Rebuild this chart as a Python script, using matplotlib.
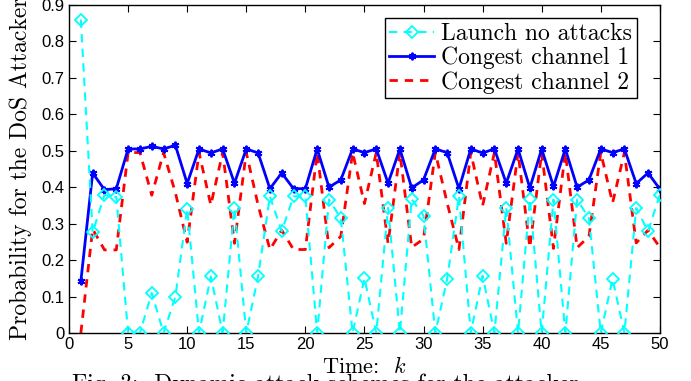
import numpy as np
import matplotlib
matplotlib.use('Agg')
import matplotlib.pyplot as plt

plt.rcParams['mathtext.fontset'] = 'cm'

# time steps
k = np.arange(1, 51)

# probabilities
no_attack = [0.86, 0.276, 0.379, 0.373, 0, 0, 0.11, 0, 0.10, 0.341,
             0, 0.155, 0, 0.343, 0, 0.155, 0.375, 0.279, 0.375, 0.375,
             0, 0.366, 0.315, 0, 0.150, 0, 0.343, 0, 0.367, 0.322,
             0, 0.148, 0.375, 0, 0.157, 0, 0.343, 0, 0.367, 0,
             0.366, 0, 0.366, 0.315, 0, 0.148, 0, 0.343, 0.279, 0.379]
channel1 = [0.142, 0.439, 0.393, 0.396, 0.505, 0.505, 0.512, 0.505, 0.515, 0.41,
            0.505, 0.494, 0.505, 0.411, 0.505, 0.494, 0.396, 0.439, 0.396, 0.396,
            0.505, 0.40, 0.42, 0.505, 0.495, 0.505, 0.411, 0.505, 0.398, 0.42,
            0.505, 0.495, 0.396, 0.505, 0.494, 0.505, 0.411, 0.505, 0.398, 0.505,
            0.402, 0.505, 0.40, 0.42, 0.505, 0.495, 0.505, 0.41, 0.439, 0.395]
channel2 = [0, 0.285, 0.228, 0.228, 0.495, 0.495, 0.378, 0.495, 0.385, 0.249,
            0.495, 0.351, 0.495, 0.246, 0.495, 0.351, 0.229, 0.282, 0.229, 0.229,
            0.495, 0.234, 0.265, 0.495, 0.355, 0.495, 0.246, 0.495, 0.235, 0.258,
            0.495, 0.357, 0.229, 0.495, 0.349, 0.495, 0.246, 0.495, 0.235, 0.495,
            0.232, 0.495, 0.234, 0.265, 0.495, 0.357, 0.495, 0.247, 0.282, 0.235]

xticks = list(range(0, 51, 5))
yticks = [0, 0.1, 0.2, 0.3, 0.4, 0.5, 0.6, 0.7, 0.8, 0.9]
ytick_labels = ['0', '0.1', '0.2', '0.3', '0.4', '0.5', '0.6', '0.7', '0.8', '0.9']

fig = plt.figure(figsize=(6.91, 3.81), dpi=100)
ax = fig.add_axes([0.0999, 0.126, 0.855, 0.861])

ax.plot(k, no_attack, color='cyan', ls='--', lw=1.5, dashes=(4, 3), marker='D',
        ms=6, mfc='none', mew=1.3, label='Launch no attacks', zorder=3)
ax.plot(k, channel1, color='blue', ls='-', lw=2.0, marker=(6, 2, 0), ms=5.5,
        mew=1.4, label='Congest channel 1', zorder=2)
ax.plot(k, channel2, color='red', ls='--', lw=2.0, dashes=(3, 2.5),
        label='Congest channel 2', zorder=1)

ax.set_xlim(0, 50)
ax.set_ylim(0, 0.9)
ax.set_xticks(xticks)
ax.set_yticks(yticks)
ax.set_yticklabels(ytick_labels)
ax.tick_params(direction='in', top=True, right=True, length=5, width=0.8,
               labelsize=12, pad=3)
for lab in ax.get_xticklabels() + ax.get_yticklabels():
    lab.set_family('Liberation Sans')
for s in ax.spines.values():
    s.set_linewidth(1.0)

ax.set_xlabel('Time:  $k$', family='cmr10', fontsize=16, labelpad=3)
ax.set_ylabel('Probability for the DoS Attacker', family='cmr10', fontsize=17)
ax.yaxis.set_label_coords(-0.062, 0.5)

leg = ax.legend(loc='upper right', bbox_to_anchor=(0.961, 0.960),
                prop={'family': 'cmr10', 'size': 17}, fancybox=False,
                edgecolor='black', framealpha=1, handlelength=1.9,
                borderpad=0.2, labelspacing=0.08, handletextpad=0.3,
                borderaxespad=0)
leg.get_frame().set_linewidth(1.0)

# caption of the paper figure, only its top is inside the picture
fig.text(0.104, -0.026, 'Fig. 3:  Dynamic attack schemes for the attacker',
         family='cmr10', fontsize=17, va='baseline')

fig.savefig('out.png', dpi=100)
